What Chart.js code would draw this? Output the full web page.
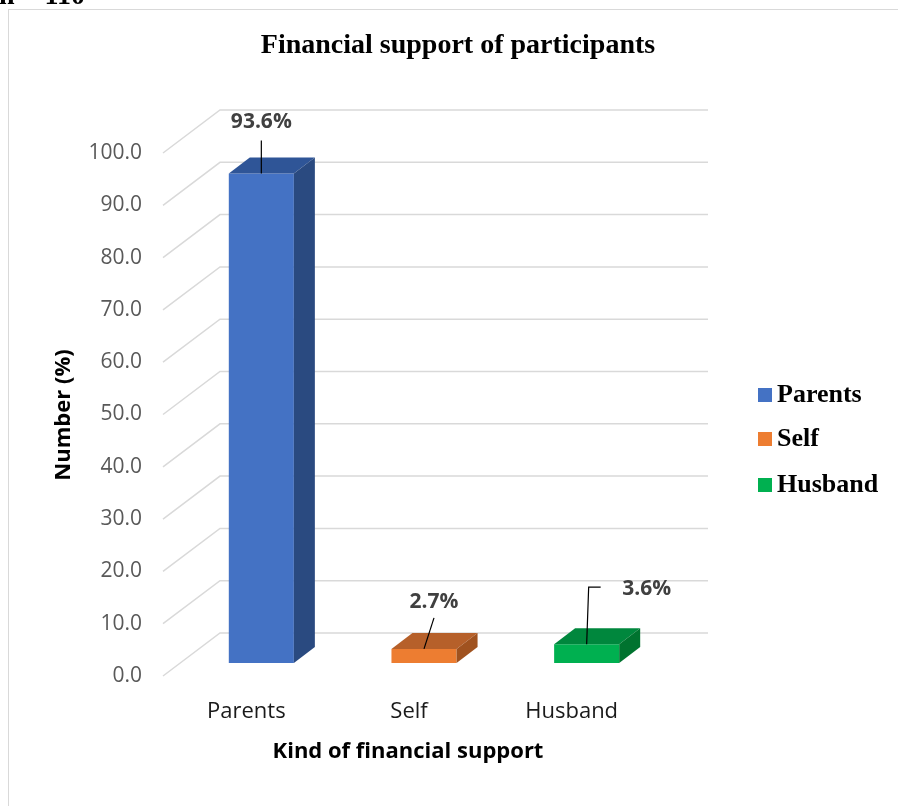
<!DOCTYPE html>
<html>
<head>
<meta charset="utf-8">
<script src="https://cdn.jsdelivr.net/npm/chart.js@4.4.1/dist/chart.umd.min.js"></script>
<style>
  body { margin: 0; background: #fff; }
  #wrap { position: relative; width: 898px; height: 806px; overflow: hidden; }
  #frame { position: absolute; left: 8px; top: 9px; width: 900px; height: 820px; border: 1.5px solid #d9d9d9; box-sizing: border-box; }
  canvas { position: absolute; left: 0; top: 0; }
</style>
</head>
<body>
<div id="wrap">
  <div id="frame"></div>
  <canvas id="grafico" width="898" height="806"></canvas>
</div>
<script>
const categories = ['Parents', 'Self', 'Husband'];
const values = [93.6, 2.7, 3.6];
const yTicks = [0, 10, 20, 30, 40, 50, 60, 70, 80, 90, 100];

const frontColors = ['#4472c4', '#ed7d31', '#00b050'];
const topColors = ['#2f5597', '#b6602a', '#00873d'];
const sideColors = ['#2a4a80', '#a0521f', '#00732f'];

// 3d offsets: bar plane, bar depth, back wall
const BAR_DX = 17, BAR_DY = -13;
const DEPTH_DX = 21, DEPTH_DY = -16;
const WALL_DX = 57, WALL_DY = -43;

const sansFont = '"Open Sans", "Liberation Sans", sans-serif';
const serifFont = '"Liberation Serif", "DejaVu Serif", serif';

const efecto3d = {
  id: 'efecto3d',
  beforeDatasetsDraw(chart) {
    const ctx = chart.ctx;
    const area = chart.chartArea;
    const yScale = chart.scales.y;
    const xScale = chart.scales.x;

    // n = 110, cut at the top
    ctx.save();
    ctx.fillStyle = '#000';
    ctx.font = 'bold 28px ' + serifFont;
    ctx.textBaseline = 'alphabetic';
    ctx.textAlign = 'left';
    ctx.fillText('n = 110', -1, 4);

    // title
    ctx.textAlign = 'center';
    ctx.textBaseline = 'middle';
    ctx.fillText('Financial support of participants', 458, 46);

    // gridlines
    ctx.strokeStyle = '#d9d9d9';
    ctx.lineWidth = 1.5;
    yTicks.forEach(t => {
      const y = yScale.getPixelForValue(t);
      ctx.beginPath();
      ctx.moveTo(area.left, y);
      ctx.lineTo(area.left + WALL_DX, y + WALL_DY);
      ctx.lineTo(area.right + WALL_DX, y + WALL_DY);
      ctx.stroke();
    });

    // tick labels
    ctx.fillStyle = '#595959';
    ctx.font = '21px ' + sansFont;
    ctx.textAlign = 'right';
    yTicks.forEach(t => {
      ctx.fillText(t.toFixed(1), 142, yScale.getPixelForValue(t));
    });

    // category labels
    ctx.fillStyle = '#1a1a1a';
    ctx.font = '22px ' + sansFont;
    ctx.textAlign = 'center';
    categories.forEach((c, i) => {
      ctx.fillText(c, xScale.getPixelForValue(i) + 2, 712);
    });

    // axis titles
    ctx.fillStyle = '#000';
    ctx.font = 'bold 22px ' + sansFont;
    ctx.fillText('Kind of financial support', 408, 752);
    ctx.save();
    ctx.translate(64, 415);
    ctx.rotate(-Math.PI / 2);
    ctx.fillText('Number (%)', 0, 0);
    ctx.restore();
    ctx.restore();

    ctx.save();
    ctx.translate(BAR_DX, BAR_DY);
  },
  afterDatasetsDraw(chart) {
    const ctx = chart.ctx;
    ctx.restore();
    const meta = chart.getDatasetMeta(0);

    meta.data.forEach((bar, i) => {
      const L = bar.x - bar.width / 2 + BAR_DX;
      const R = bar.x + bar.width / 2 + BAR_DX;
      const T = bar.y + BAR_DY;
      const B = bar.base + BAR_DY;
      ctx.fillStyle = topColors[i];
      ctx.beginPath();
      ctx.moveTo(L, T);
      ctx.lineTo(L + DEPTH_DX, T + DEPTH_DY);
      ctx.lineTo(R + DEPTH_DX, T + DEPTH_DY);
      ctx.lineTo(R, T);
      ctx.closePath();
      ctx.fill();
      ctx.fillStyle = sideColors[i];
      ctx.beginPath();
      ctx.moveTo(R, T);
      ctx.lineTo(R + DEPTH_DX, T + DEPTH_DY);
      ctx.lineTo(R + DEPTH_DX, B + DEPTH_DY);
      ctx.lineTo(R, B);
      ctx.closePath();
      ctx.fill();
    });

    // data labels with leader lines (offsets from bar top centre)
    const labelPos = [[0, -51], [10, -47], [60, -55]];
    const leaders = [
      [[0, -33], [0, 0]],
      [[10, -31], [0, 0]],
      [[14, -57], [2, -57], [0, 0]]
    ];
    ctx.save();
    ctx.strokeStyle = '#000';
    ctx.lineWidth = 1.2;
    meta.data.forEach((bar, i) => {
      const cx = bar.x + BAR_DX;
      const cy = bar.y + BAR_DY;
      ctx.beginPath();
      leaders[i].forEach((p, k) => {
        if (k === 0) ctx.moveTo(cx + p[0], cy + p[1]);
        else ctx.lineTo(cx + p[0], cy + p[1]);
      });
      ctx.stroke();
      ctx.fillStyle = '#404040';
      ctx.font = 'bold 21px ' + sansFont;
      ctx.textAlign = 'center';
      ctx.textBaseline = 'middle';
      ctx.fillText(values[i].toFixed(1) + '%', cx + labelPos[i][0], cy + labelPos[i][1]);
    });

    // legend
    const rows = [395, 439, 485];
    ctx.font = 'bold 26px ' + serifFont;
    ctx.textAlign = 'left';
    categories.forEach((c, i) => {
      ctx.fillStyle = frontColors[i];
      ctx.fillRect(758, rows[i] - 7, 14, 14);
      ctx.fillStyle = '#000';
      ctx.fillText(c, 777, rows[i]);
    });
    ctx.restore();
  }
};

new Chart(document.getElementById('grafico'), {
  type: 'bar',
  data: {
    labels: categories,
    datasets: [{
      label: 'Number (%)',
      data: values,
      backgroundColor: frontColors,
      borderWidth: 0,
      barPercentage: 0.4,
      categoryPercentage: 1.0,
      clip: false
    }]
  },
  options: {
    responsive: false,
    animation: false,
    devicePixelRatio: 1,
    layout: { padding: { left: 163, right: 247, top: 153, bottom: 130 } },
    plugins: { legend: { display: false }, tooltip: { enabled: false } },
    scales: {
      x: { display: false },
      y: { display: false, min: 0, max: 100 }
    }
  },
  plugins: [efecto3d]
});
</script>
</body>
</html>
